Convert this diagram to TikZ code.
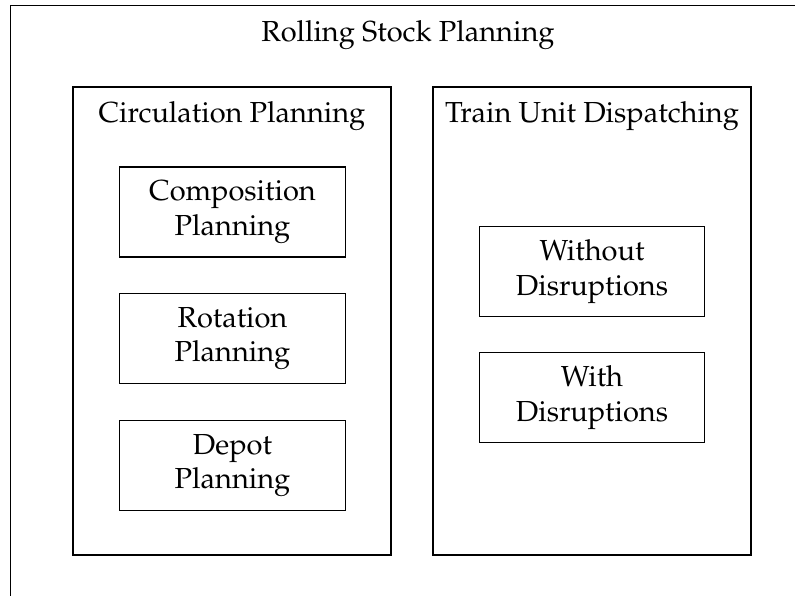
\documentclass[tikz,border=0pt]{standalone}
\usepackage[T1]{fontenc}
\usepackage{mathpazo}
\begin{document}
\begin{tikzpicture}[x=0.345pt, y=-0.345pt, line width=0.4pt,
    panel/.style={draw, minimum width=109.7pt, minimum height=161.5pt},
    plan/.style={draw, minimum width=77.8pt, minimum height=31pt, align=center, inner sep=0pt},
    heading/.style={anchor=base}]
  \useasboundingbox (0,0) rectangle (795,596);
  % outer frame, cut off on the right and at the bottom
  \node[draw, anchor=north west, minimum width=300pt, minimum height=240pt] (rsp) at (10,5) {};
  \node[heading] (rsptitle) at (408,42) {Rolling Stock Planning};
  % circulation planning
  \node[panel] (circ) at (232,321) {};
  \node[heading] (circtitle) at (232,123) {Circulation Planning};
  \node[plan] (comp) at (232.5,212) {Composition\\Planning};
  \node[plan] (rot) at (232.5,338.5) {Rotation\\Planning};
  \node[plan] (depot) at (232.5,465.5) {Depot\\Planning};
  % train unit dispatching
  \node[panel] (tud) at (592,321) {};
  \node[heading] (tudtitle) at (592,123) {Train Unit Dispatching};
  \node[plan] (without) at (592,271.5) {Without\\Disruptions};
  \node[plan] (with) at (592,397.5) {With\\Disruptions};
\end{tikzpicture}
\end{document}
